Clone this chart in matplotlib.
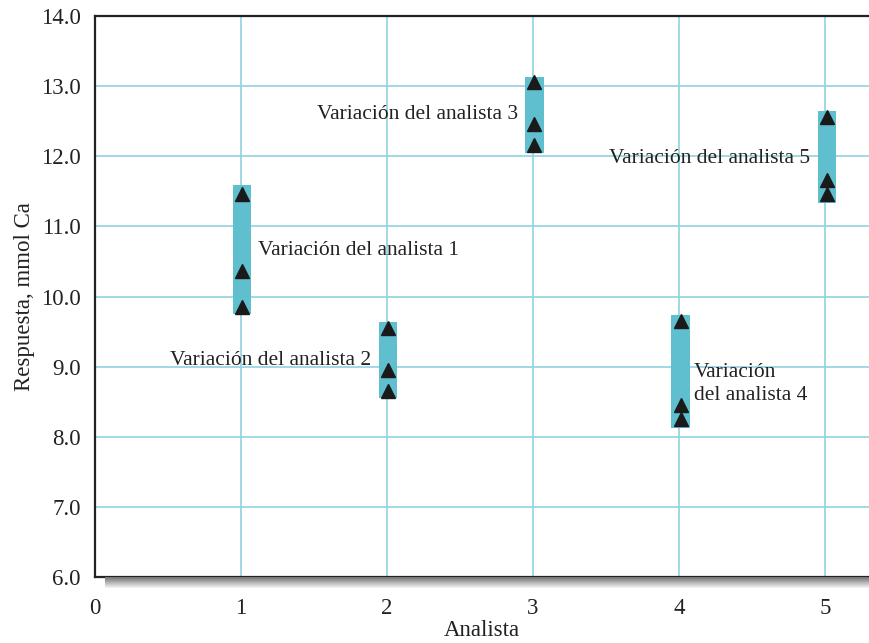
import matplotlib
matplotlib.use("Agg")
import matplotlib.pyplot as plt
from matplotlib.markers import MarkerStyle
from matplotlib.transforms import Affine2D
import numpy as np

# datos
analistas = [1, 2, 3, 4, 5]
resultados = [
    [11.4, 10.3, 9.8],
    [9.5, 8.9, 8.6],
    [13.0, 12.4, 12.1],
    [9.6, 8.4, 8.2],
    [12.5, 11.6, 11.4],
]
barra_min = [9.75, 8.55, 12.05, 8.12, 11.33]
barra_max = [11.59, 9.63, 13.13, 9.73, 12.64]

etiquetas = [
    "Variación del analista 1",
    "Variación del analista 2",
    "Variación del analista 3",
    "Variación\ndel analista 4",
    "Variación del analista 5",
]
etq_x = [1.115, 1.89, 2.90, 4.10, 4.90]
etq_y = [10.65, 9.09, 12.60, 8.75, 11.97]
etq_ha = ["left", "right", "right", "left", "right"]

plt.rcParams['font.family'] = ['Liberation Serif', 'DejaVu Serif']
plt.rcParams['font.size'] = 16.5

fig = plt.figure(figsize=(8.69, 6.43), dpi=100)
ax = fig.add_axes([0.109, 0.1026, 0.891, 0.8725])

color_barra = "#5fbfcf"
color_red = "#8fd3df"

ax.set_xlim(0, 5.30)
ax.set_ylim(6, 14)
for x in analistas:
    ax.axvline(x, color=color_red, lw=1.2, zorder=0)
for y in range(7, 14):
    ax.axhline(y, color=color_red, lw=1.2, zorder=0)

ax.set_xticks([0] + analistas)
ax.set_xticklabels(["0"] + [str(a) for a in analistas])
ax.set_yticks(np.arange(6, 15, 1))
ax.set_yticklabels([f"{v:.1f}" for v in np.arange(6, 15, 1)])
ax.tick_params(length=0, colors="#222222")
ax.tick_params(axis='x', pad=15)
ax.tick_params(axis='y', pad=10)

# triangulo algo desplazado hacia arriba, como en el original
triangulo = MarkerStyle("^", transform=Affine2D().translate(0, 0.3))

for a, lo, hi, vals in zip(analistas, barra_min, barra_max, resultados):
    ax.bar(a + 0.01, hi - lo, bottom=lo, width=0.125, color=color_barra, zorder=2)
    ax.plot([a + 0.01] * len(vals), vals, linestyle="none", marker=triangulo,
            markersize=9.5, color="#1a1a1a", zorder=3)

for t, x, y, ha in zip(etiquetas, etq_x, etq_y, etq_ha):
    ax.text(x, y, t, ha=ha, va="center", color="#222222", fontsize=15.5,
            linespacing=1.25, zorder=4)

for s in ["left", "top", "bottom"]:
    ax.spines[s].set_linewidth(1.6)
    ax.spines[s].set_color("#222222")
ax.spines["right"].set_visible(False)

ax.set_ylabel("Respuesta, mmol Ca", color="#222222", labelpad=4)
ax.set_xlabel("Analista", color="#222222", labelpad=1)

# sombra bajo el eje x
sombra = fig.add_axes([0.121, 0.085, 0.879, 0.017])
grad = np.linspace(0.45, 0.96, 50).reshape(-1, 1)
sombra.imshow(grad, aspect="auto", cmap="gray", vmin=0, vmax=1,
              extent=[0, 1, 0, 1])
sombra.axis("off")

fig.savefig("out.png", dpi=100)
